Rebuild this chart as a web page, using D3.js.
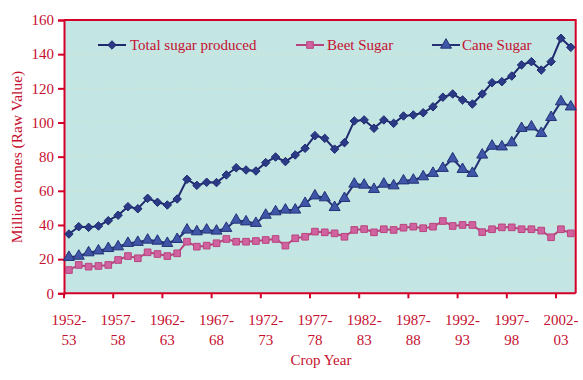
<!DOCTYPE html>
<html><head><meta charset="utf-8">
<script src="https://cdn.jsdelivr.net/npm/d3@7"></script>
<style>
html,body{margin:0;padding:0;background:#fff;}
svg{display:block;font-family:"Liberation Serif","Times New Roman",serif;}
</style></head>
<body><svg id="chart" width="583" height="380"></svg>
<script>
const categories = ["1952-53","1953-54","1954-55","1955-56","1956-57","1957-58","1958-59","1959-60","1960-61","1961-62",
"1962-63","1963-64","1964-65","1965-66","1966-67","1967-68","1968-69","1969-70","1970-71","1971-72",
"1972-73","1973-74","1974-75","1975-76","1976-77","1977-78","1978-79","1979-80","1980-81","1981-82",
"1982-83","1983-84","1984-85","1985-86","1986-87","1987-88","1988-89","1989-90","1990-91","1991-92",
"1992-93","1993-94","1994-95","1995-96","1996-97","1997-98","1998-99","1999-00","2000-01","2001-02",
"2002-03","2003-04"];
const totalSugar = [34.7,39.0,38.6,39.4,42.5,45.7,50.7,49.5,55.6,53.3,
51.7,55.2,66.7,63.2,65.0,64.8,69.3,73.5,72.2,71.6,
76.5,79.8,77.1,81.0,84.9,92.3,90.7,84.4,88.2,100.9,
101.5,96.6,101.5,99.5,103.8,104.4,105.7,109.2,114.8,116.7,
113.2,110.8,116.7,123.3,123.9,127.2,133.7,135.6,130.7,135.6,
149.3,144.0];
const beetSugar = [13.6,16.6,15.6,16.0,16.6,19.5,21.8,20.5,24.0,23.0,
21.8,23.4,30.2,27.3,27.9,29.3,31.8,30.2,30.2,30.6,
31.2,31.8,27.9,32.2,33.1,36.1,35.7,35.1,33.1,37.1,
37.6,35.7,37.5,37.1,38.4,39.0,38.1,39.0,42.3,39.4,
40.0,40.0,35.8,37.5,38.6,38.6,37.5,37.5,36.7,32.8,
37.5,35.1];
const caneSugar = [21.1,21.8,23.8,24.9,26.3,27.3,29.3,29.9,31.2,30.6,
29.3,31.6,37.1,36.1,37.1,36.5,38.1,42.9,41.9,41.0,
45.8,47.8,48.8,48.8,52.7,57.1,56.0,50.3,55.6,64.0,
63.4,60.9,64.0,63.0,65.9,66.3,68.3,70.3,73.2,78.8,
72.6,70.3,81.0,86.2,85.8,88.2,96.6,97.5,93.7,103.0,
112.2,109.2];
const yTicks = [0,20,40,60,80,100,120,140,160];
const seriesNames = ["Total sugar produced","Beet Sugar","Cane Sugar"];

(function(){
const textColor = "#c5102f";
const fs = 15;
const svg = d3.select("#chart");
const pL = 64, pR = 575.7, pT = 20, pB = 293.3;

const x = d3.scaleBand().domain(categories).range([pL, pR]).padding(0);
const y = d3.scaleLinear().domain([0,160]).range([pB, pT]);
const cx = c => x(c) + x.bandwidth()/2;

svg.append("rect").attr("x", pL).attr("y", pT).attr("width", pR-pL).attr("height", pB-pT)
  .attr("fill", "#c3e5e4");

svg.append("g").selectAll("line").data(yTicks.filter(v => v>0 && v<160)).join("line")
  .attr("x1", pL).attr("x2", pR).attr("y1", d=>y(d)).attr("y2", d=>y(d))
  .attr("stroke", "#d9e8c4").attr("stroke-width", 1.2).attr("stroke-dasharray", "1.5,3");

svg.append("path").attr("d", `M${pL},${pT}H${pR}V${pB}`).attr("fill","none")
  .attr("stroke", "#d4002a").attr("stroke-width", 2);

const yAxis = d3.axisLeft(y).tickValues(yTicks).tickSize(6).tickPadding(4).tickFormat(d3.format("d"));
const gy = svg.append("g").attr("transform", `translate(${pL},0)`).call(yAxis);
gy.select(".domain").attr("stroke", "#d4002a").attr("stroke-width", 2);
gy.selectAll(".tick line").attr("stroke", "#d4002a").attr("stroke-width", 2);
gy.selectAll(".tick text").attr("fill", textColor).attr("font-size", fs).attr("font-family", "Liberation Serif");

const labelCats = categories.filter((c,i) => i % 5 === 0);
const gx = svg.append("g");
gx.append("line").attr("x1", pL).attr("x2", pR).attr("y1", pB).attr("y2", pB)
  .attr("stroke", "#d4002a").attr("stroke-width", 2);
gx.selectAll("line.tk").data(labelCats).join("line").attr("class","tk")
  .attr("x1", d=>x(d)).attr("x2", d=>x(d)).attr("y1", pB).attr("y2", pB+5)
  .attr("stroke", "#d4002a").attr("stroke-width", 2);
const lbl = gx.selectAll("text.lb").data(labelCats).join("text").attr("class","lb")
  .attr("text-anchor","middle").attr("fill", textColor).attr("font-size", fs);
lbl.append("tspan").attr("x", d=>cx(d)).attr("y", pB+32).text(d => d.split("-")[0] + "-");
lbl.append("tspan").attr("x", d=>cx(d)).attr("y", pB+52).text(d => d.split("-")[1]);

svg.append("text").attr("x", 321).attr("y", 365).attr("text-anchor","middle")
  .attr("fill", textColor).attr("font-size", fs).text("Crop Year");
svg.append("text").attr("transform", "translate(22,157) rotate(-90)").attr("text-anchor","middle")
  .attr("fill", textColor).attr("font-size", fs+0.5).text("Million tonnes (Raw Value)");

const line = d3.line().x((d,i)=>cx(categories[i])).y(d=>y(d));

const styles = [
  {data: totalSugar, stroke:"#1f2a6e", fill:"#2a3a86", shape:d3.symbolDiamond2, size:46},
  {data: beetSugar, stroke:"#b8447e", fill:"#d062a0", shape:d3.symbolSquare, size:44},
  {data: caneSugar, stroke:"#243275", fill:"#3f55a8", shape:d3.symbolTriangle, size:52}
];

styles.forEach(s => {
  svg.append("path").datum(s.data).attr("d", line).attr("fill","none")
    .attr("stroke", s.stroke).attr("stroke-width", 2);
  svg.append("g").selectAll("path").data(s.data).join("path")
    .attr("transform", (d,i)=>`translate(${cx(categories[i])},${y(d)})`)
    .attr("d", d3.symbol().type(s.shape).size(s.size))
    .attr("fill", s.fill).attr("stroke", s.stroke).attr("stroke-width", 1);
});

const legendPos = [{lx:98, tx:130}, {lx:296, tx:327}, {lx:432, tx:462}];
const lg = svg.append("g");
styles.forEach((s,i) => {
  const p = legendPos[i];
  lg.append("line").attr("x1", p.lx).attr("x2", p.lx+28).attr("y1", 45).attr("y2", 45)
    .attr("stroke", s.stroke).attr("stroke-width", 2);
  lg.append("path").attr("transform", `translate(${p.lx+14},45)`)
    .attr("d", d3.symbol().type(s.shape).size(s.size))
    .attr("fill", s.fill).attr("stroke", s.stroke).attr("stroke-width", 1);
  lg.append("text").attr("x", p.tx).attr("y", 50).attr("fill", textColor).attr("font-size", fs)
    .text(seriesNames[i]);
});
})();
</script></body></html>
